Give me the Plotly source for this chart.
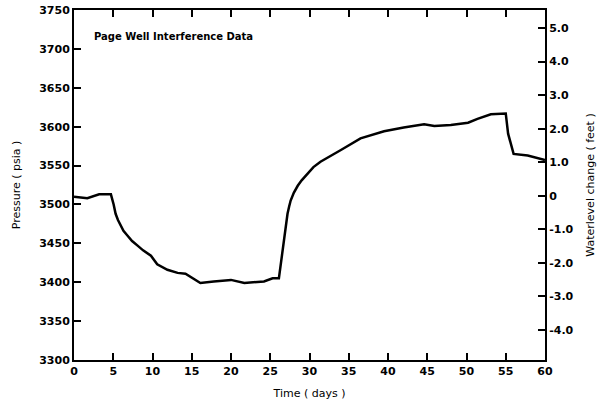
import plotly.graph_objects as go

# Data
time_days = [0, 1.7, 3.2, 4.7, 5.05, 5.3, 5.6, 5.9, 6.3, 6.8, 7.4, 8.1, 8.8, 9.8, 10.6,
             11.9, 13.2, 14.2, 15.1, 16.1, 17.8, 20, 21.7, 24.2, 25.3, 26.1, 26.3, 26.6,
             26.9, 27.2, 27.4, 27.6, 28.0, 28.5, 29.0, 29.7, 30.5, 31.4, 32.5, 34, 36.5,
             38, 39.5, 42, 44.6, 45.9, 48, 50.2, 51.4, 53.1, 55, 55.3, 56, 57.8, 60]
pressure_psia = [3510, 3508, 3513, 3513, 3500, 3488, 3480, 3473, 3466, 3460, 3453, 3447,
                 3441, 3434, 3423, 3416, 3412, 3411, 3405, 3399, 3401, 3403, 3399, 3401,
                 3405, 3405, 3420, 3445, 3468, 3488, 3497, 3505, 3515, 3524, 3531, 3539,
                 3548, 3555, 3561, 3570, 3585, 3590, 3594, 3599, 3603, 3601, 3602, 3605,
                 3610, 3616, 3617, 3591, 3565, 3563, 3557]

x_ticks = [0, 5, 10, 15, 20, 25, 30, 35, 40, 45, 50, 55, 60]
left_ticks = [3300, 3350, 3400, 3450, 3500, 3550, 3600, 3650, 3700, 3750]
right_tickvals = [-4, -3, -2, -1, 0, 1, 2, 3, 4, 5]
right_ticktext = ["-4.0", "-3.0", "-2.0", "-1.0", "0", "1.0", "2.0", "3.0", "4.0", "5.0"]

title_text = "Page Well Interference Data"

FONT = "DejaVu Sans"
tickfont = dict(family=FONT, size=11, color="black", weight="bold")
titlefont = dict(family=FONT, size=11, color="black")

fig = go.Figure()
fig.add_trace(go.Scatter(x=time_days, y=pressure_psia, mode="lines",
                         line=dict(color="black", width=2.5), showlegend=False))
fig.add_trace(go.Scatter(x=[None], y=[None], yaxis="y2", showlegend=False, hoverinfo="skip"))

fig.update_layout(
    width=599, height=411,
    margin=dict(l=74, r=54, t=10, b=51, autoexpand=False),
    paper_bgcolor="white", plot_bgcolor="white",
    showlegend=False,
    xaxis=dict(range=[0, 60], tickvals=x_ticks, ticks="inside", ticklen=7, tickwidth=1.5,
               tickcolor="black", showline=True, linecolor="black", linewidth=2,
               mirror="ticks", showgrid=False, zeroline=False, tickfont=tickfont,
               automargin=False,
               title=dict(text="Time ( days )", font=titlefont, standoff=12)),
    yaxis=dict(range=[3300, 3750], tickvals=left_ticks, ticks="inside", ticklen=7,
               tickwidth=1.5, tickcolor="black", showline=True, linecolor="black",
               linewidth=2, showgrid=False, zeroline=False, tickfont=tickfont,
               ticklabeloverflow="allow", automargin=False,
               title=dict(text="Pressure ( psia )", font=titlefont, standoff=16)),
    yaxis2=dict(range=[-4.9, 5.54], overlaying="y", side="right", tickvals=right_tickvals,
                ticktext=right_ticktext, ticks="inside", ticklen=7, tickwidth=1.5,
                tickcolor="black", showline=True, linecolor="black", linewidth=2,
                showgrid=False, zeroline=False, tickfont=tickfont, automargin=False,
                title=dict(text="Waterlevel change ( feet )", font=titlefont, standoff=14)),
    annotations=[dict(text=title_text, x=0.038, y=0.925, xref="paper", yref="paper",
                      xanchor="left", yanchor="middle", showarrow=False,
                      font=dict(family=FONT, size=10, color="black", weight="bold"))],
)

fig.write_html("out.html", config={"displayModeBar": False},
               post_script="document.body.style.margin='0';document.body.style.padding='0';")
